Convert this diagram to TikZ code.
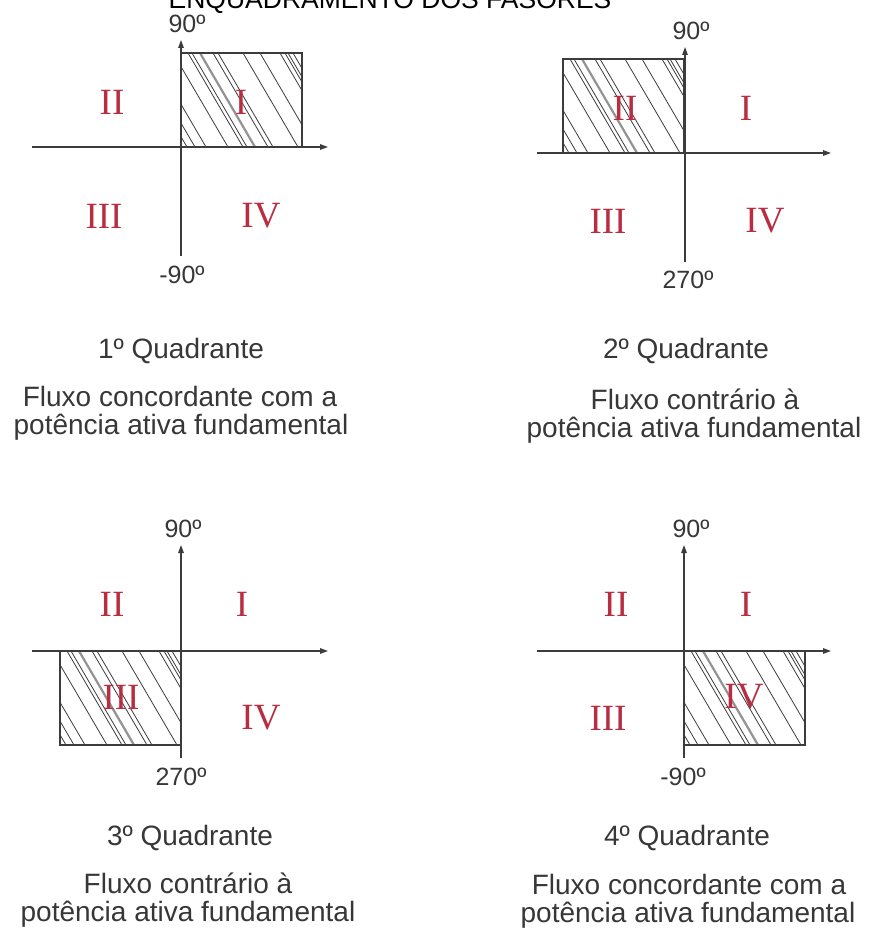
\documentclass[tikz,border=0pt]{standalone}
\usepackage{fontspec}
\setmainfont{Liberation Sans}
\newfontfamily\romfont{Liberation Serif}
\usetikzlibrary{arrows.meta}
\definecolor{txtgray}{RGB}{55,55,55}
\definecolor{linegray}{RGB}{60,60,60}
\definecolor{romred}{RGB}{185,45,65}
\newcommand\hatchbox[2]{%
  \begin{scope}
    \clip (#1,#2) rectangle ++(121,94);
    \foreach \c in {-49,-41,-30,-8,7,11,32,37,62,79,99,104,107,112}
      \draw[hatchline] (#1+\c,#2) -- ++(55,94);
    \draw[hatchthick] (#1+19,#2) -- ++(55,94);
  \end{scope}
  \draw[boxline] (#1,#2) rectangle ++(121,94);}
\begin{document}
\begin{tikzpicture}[x=1pt,y=-1pt,
  axis/.style={draw=linegray,line width=1.3pt,-{Triangle[length=8pt,width=5.5pt]}},
  boxline/.style={draw=linegray,line width=1.3pt},
  hatchline/.style={draw=linegray,line width=0.8pt},
  hatchthick/.style={draw=gray!85,line width=2.2pt},
  deg/.style={anchor=base,inner sep=0pt,text=txtgray,font=\fontsize{25}{25}\selectfont},
  rom/.style={inner sep=0pt,text=romred,font=\romfont\fontsize{37}{37}\selectfont},
  captext/.style={anchor=base,inner sep=0pt,text=txtgray,font=\fontsize{28}{28}\selectfont},
  titletext/.style={anchor=base,inner sep=0pt,text=black,font=\fontsize{26.5}{26.5}\selectfont}]
\clip (0,0) rectangle (868,928);
\useasboundingbox (0,0) rectangle (868,928);
\fill[white] (0,0) rectangle (868,928);

\node[titletext] (title) at (390,9) {ENQUADRAMENTO DOS FASORES};

% ---------- Panel 1 ----------
\hatchbox{181}{53}
\coordinate (p1l) at (32,147);  \coordinate (p1r) at (328,147);
\coordinate (p1b) at (181,256); \coordinate (p1t) at (181,40);
\draw[axis] (p1l) -- (p1r);
\draw[axis] (p1b) -- (p1t);
\node[deg] (p1d90) at (187,33) {90º};
\node[deg] (p1dm) at (182,283) {-90º};
\node[rom] (p1II) at (112,102) {II};
\node[rom] (p1I) at (241,102) {I};
\node[rom] (p1III) at (104,216) {III};
\node[rom] (p1IV) at (261,216) {IV};
\node[captext] (p1c1) at (181,358) {1º Quadrante};
\node[captext] (p1c2) at (180,406) {Fluxo concordante com a};
\node[captext] (p1c3) at (181,434) {potência ativa fundamental};

% ---------- Panel 2 ----------
\hatchbox{563}{59}
\coordinate (p2l) at (537,153);  \coordinate (p2r) at (831,153);
\coordinate (p2b) at (685,262); \coordinate (p2t) at (685,47);
\draw[axis] (p2l) -- (p2r);
\draw[axis] (p2b) -- (p2t);
\node[deg] (p2d90) at (691,40) {90º};
\node[deg] (p2d270) at (688,288) {270º};
\node[rom] (p2II) at (625,108) {II};
\node[rom] (p2I) at (746,108) {I};
\node[rom] (p2III) at (608,221) {III};
\node[rom] (p2IV) at (765,221) {IV};
\node[captext] (p2c1) at (686,358) {2º Quadrante};
\node[captext] (p2c2) at (695,409) {Fluxo contrário à};
\node[captext] (p2c3) at (694,437) {potência ativa fundamental};

% ---------- Panel 3 ----------
\hatchbox{60}{651}
\coordinate (p3l) at (32,651);  \coordinate (p3r) at (328,651);
\coordinate (p3b) at (181,758); \coordinate (p3t) at (181,545);
\draw[axis] (p3l) -- (p3r);
\draw[axis] (p3b) -- (p3t);
\node[deg] (p3d90) at (183,537) {90º};
\node[deg] (p3d270) at (181,785) {270º};
\node[rom] (p3II) at (112,604) {II};
\node[rom] (p3I) at (242,604) {I};
\node[rom] (p3III) at (121,697) {III};
\node[rom] (p3IV) at (261,718) {IV};
\node[captext] (p3c1) at (190,845) {3º Quadrante};
\node[captext] (p3c2) at (188,893) {Fluxo contrário à};
\node[captext] (p3c3) at (188,921) {potência ativa fundamental};

% ---------- Panel 4 ----------
\hatchbox{684}{651}
\coordinate (p4l) at (537,651);  \coordinate (p4r) at (831,651);
\coordinate (p4b) at (684,758); \coordinate (p4t) at (684,545);
\draw[axis] (p4l) -- (p4r);
\draw[axis] (p4b) -- (p4t);
\node[deg] (p4d90) at (691,537) {90º};
\node[deg] (p4dm) at (683,785) {-90º};
\node[rom] (p4II) at (616,604) {II};
\node[rom] (p4I) at (746,604) {I};
\node[rom] (p4III) at (608,718) {III};
\node[rom] (p4IV) at (744,697) {IV};
\node[captext] (p4c1) at (687,845) {4º Quadrante};
\node[captext] (p4c2) at (689,894) {Fluxo concordante com a};
\node[captext] (p4c3) at (688,922) {potência ativa fundamental};
\end{tikzpicture}
\end{document}
